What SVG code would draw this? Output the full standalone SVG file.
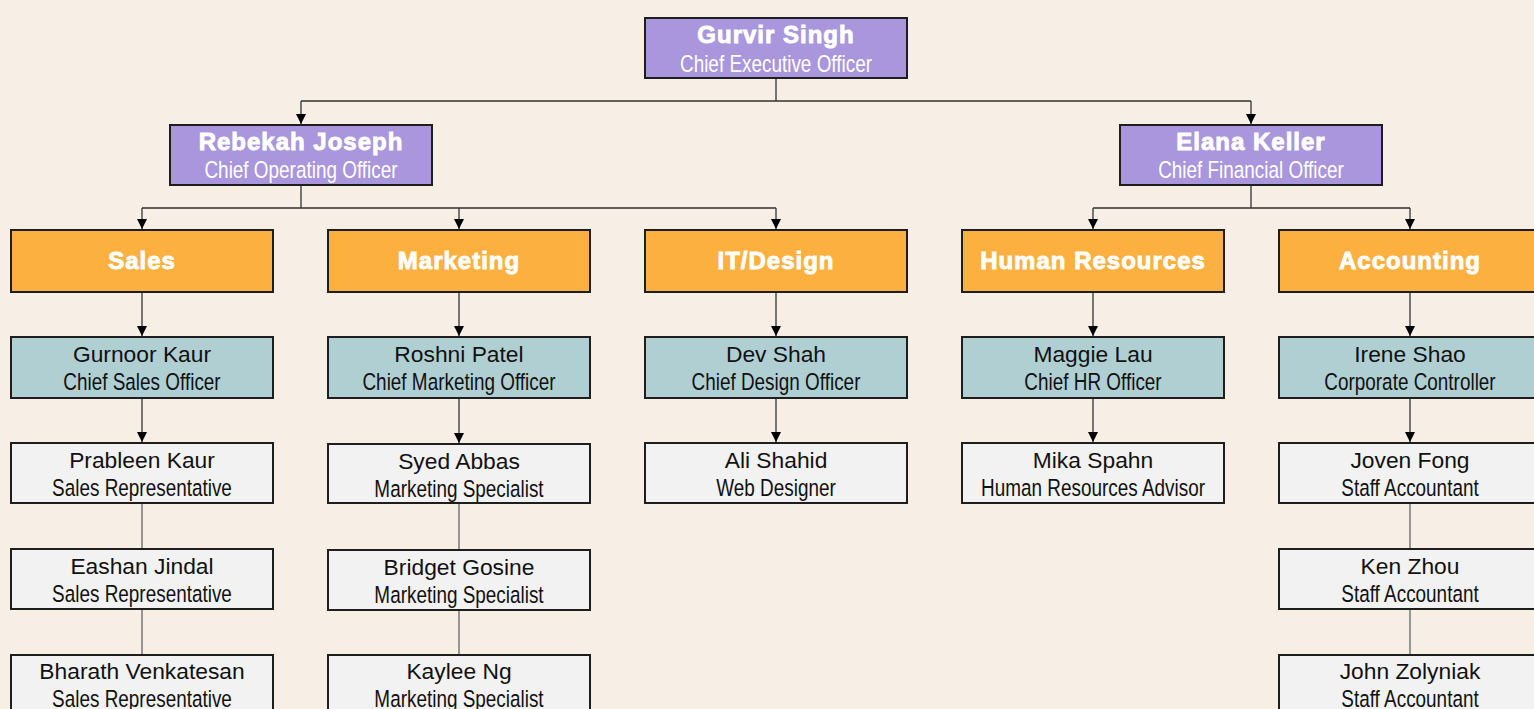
<svg xmlns="http://www.w3.org/2000/svg" width="1534" height="709" viewBox="0 0 1534 709">
<defs>
<marker id="arr" viewBox="0 0 10 10" refX="10" refY="5" markerWidth="10" markerHeight="10" markerUnits="userSpaceOnUse" orient="auto">
<path d="M0,0 L10,5 L0,10 Z" fill="#000"/>
</marker>
<style>
.box{stroke:#1e1e1e;stroke-width:2}
.exec{fill:#A996DC}
.dept{fill:#FBB040}
.chief{fill:#B0CFD3}
.staff{fill:#F2F2F2}
.hb{font-family:"Liberation Sans",Arial,sans-serif;font-weight:bold;font-size:24px;fill:#fff;stroke:#fff;stroke-width:0.9;letter-spacing:1px;text-anchor:middle}
.ht,.t{font-family:"Liberation Sans",Arial,sans-serif;font-size:23.5px;text-anchor:middle;transform-box:fill-box;transform-origin:center;transform:scaleX(0.805)}
.ht{fill:#fff}
.t{fill:#111}
.n{font-family:"Liberation Sans",Arial,sans-serif;font-size:22.8px;fill:#111;text-anchor:middle}
.c{fill:none;stroke:#333;stroke-width:1.3}
.g{fill:none;stroke:#666;stroke-width:1.3}
</style>
</defs>
<rect width="1534" height="709" fill="#F7EFE6"/>
<g id="connectors">
<path class="c" d="M776,79 V101 M301,101 H1251"/>
<path class="c" d="M301,101 V124" marker-end="url(#arr)"/>
<path class="c" d="M1251,101 V124" marker-end="url(#arr)"/>
<path class="c" d="M301,185 V208 M142,208 H776"/>
<path class="c" d="M142,208 V229" marker-end="url(#arr)"/>
<path class="c" d="M459,208 V229" marker-end="url(#arr)"/>
<path class="c" d="M776,208 V229" marker-end="url(#arr)"/>
<path class="c" d="M1251,185 V208 M1093,208 H1410"/>
<path class="c" d="M1093,208 V229" marker-end="url(#arr)"/>
<path class="c" d="M1410,208 V229" marker-end="url(#arr)"/>
<path class="c" d="M142,293 V336" marker-end="url(#arr)"/>
<path class="c" d="M459,293 V336" marker-end="url(#arr)"/>
<path class="c" d="M776,293 V336" marker-end="url(#arr)"/>
<path class="c" d="M1093,293 V336" marker-end="url(#arr)"/>
<path class="c" d="M1410,293 V336" marker-end="url(#arr)"/>
<path class="c" d="M142,399 V442" marker-end="url(#arr)"/>
<path class="c" d="M459,399 V443" marker-end="url(#arr)"/>
<path class="c" d="M776,399 V442" marker-end="url(#arr)"/>
<path class="c" d="M1093,399 V442" marker-end="url(#arr)"/>
<path class="c" d="M1410,399 V442" marker-end="url(#arr)"/>
<path class="g" d="M142,504 V549 M142,610 V654"/>
<path class="g" d="M459,504 V550 M459,611 V654"/>
<path class="g" d="M1410,504 V549 M1410,610 V654"/>
</g>
<g id="ceo"><rect class="box exec" x="645" y="18" width="262" height="60"/><text class="hb" x="776" y="43">Gurvir Singh</text><text class="ht" x="776" y="72">Chief Executive Officer</text></g>
<g id="coo"><rect class="box exec" x="170" y="125" width="262" height="60"/><text class="hb" x="301" y="150">Rebekah Joseph</text><text class="ht" x="301" y="178">Chief Operating Officer</text></g>
<g id="cfo"><rect class="box exec" x="1120" y="125" width="262" height="60"/><text class="hb" x="1251" y="150">Elana Keller</text><text class="ht" x="1251" y="178">Chief Financial Officer</text></g>
<g id="sales"><rect class="box dept" x="11" y="230" width="262" height="62"/><text class="hb" x="142" y="269">Sales</text></g>
<g id="marketing"><rect class="box dept" x="328" y="230" width="262" height="62"/><text class="hb" x="459" y="269">Marketing</text></g>
<g id="itdesign"><rect class="box dept" x="645" y="230" width="262" height="62"/><text class="hb" x="776" y="269">IT/Design</text></g>
<g id="hr"><rect class="box dept" x="962" y="230" width="262" height="62"/><text class="hb" x="1093" y="269">Human Resources</text></g>
<g id="accounting"><rect class="box dept" x="1279" y="230" width="262" height="62"/><text class="hb" x="1410" y="269">Accounting</text></g>
<g id="gurnoor"><rect class="box chief" x="11" y="337" width="262" height="61"/><text class="n" x="142" y="362">Gurnoor Kaur</text><text class="t" x="142" y="390">Chief Sales Officer</text></g>
<g id="roshni"><rect class="box chief" x="328" y="337" width="262" height="61"/><text class="n" x="459" y="362">Roshni Patel</text><text class="t" x="459" y="390">Chief Marketing Officer</text></g>
<g id="dev"><rect class="box chief" x="645" y="337" width="262" height="61"/><text class="n" x="776" y="362">Dev Shah</text><text class="t" x="776" y="390">Chief Design Officer</text></g>
<g id="maggie"><rect class="box chief" x="962" y="337" width="262" height="61"/><text class="n" x="1093" y="362">Maggie Lau</text><text class="t" x="1093" y="390">Chief HR Officer</text></g>
<g id="irene"><rect class="box chief" x="1279" y="337" width="262" height="61"/><text class="n" x="1410" y="362">Irene Shao</text><text class="t" x="1410" y="390">Corporate Controller</text></g>
<g id="prableen"><rect class="box staff" x="11" y="443" width="262" height="60"/><text class="n" x="142" y="468">Prableen Kaur</text><text class="t" x="142" y="496">Sales Representative</text></g>
<g id="eashan"><rect class="box staff" x="11" y="549" width="262" height="60"/><text class="n" x="142" y="574">Eashan Jindal</text><text class="t" x="142" y="602">Sales Representative</text></g>
<g id="bharath"><rect class="box staff" x="11" y="655" width="262" height="60"/><text class="n" x="142" y="679">Bharath Venkatesan</text><text class="t" x="142" y="707">Sales Representative</text></g>
<g id="syed"><rect class="box staff" x="328" y="444" width="262" height="59"/><text class="n" x="459" y="469">Syed Abbas</text><text class="t" x="459" y="497">Marketing Specialist</text></g>
<g id="bridget"><rect class="box staff" x="328" y="550" width="262" height="60"/><text class="n" x="459" y="575">Bridget Gosine</text><text class="t" x="459" y="603">Marketing Specialist</text></g>
<g id="kaylee"><rect class="box staff" x="328" y="655" width="262" height="60"/><text class="n" x="459" y="679">Kaylee Ng</text><text class="t" x="459" y="707">Marketing Specialist</text></g>
<g id="ali"><rect class="box staff" x="645" y="443" width="262" height="60"/><text class="n" x="776" y="468">Ali Shahid</text><text class="t" x="776" y="496">Web Designer</text></g>
<g id="mika"><rect class="box staff" x="962" y="443" width="262" height="60"/><text class="n" x="1093" y="468">Mika Spahn</text><text class="t" x="1093" y="496">Human Resources Advisor</text></g>
<g id="joven"><rect class="box staff" x="1279" y="443" width="262" height="60"/><text class="n" x="1410" y="468">Joven Fong</text><text class="t" x="1410" y="496">Staff Accountant</text></g>
<g id="ken"><rect class="box staff" x="1279" y="549" width="262" height="60"/><text class="n" x="1410" y="574">Ken Zhou</text><text class="t" x="1410" y="602">Staff Accountant</text></g>
<g id="john"><rect class="box staff" x="1279" y="655" width="262" height="60"/><text class="n" x="1410" y="679">John Zolyniak</text><text class="t" x="1410" y="707">Staff Accountant</text></g>
</svg>
